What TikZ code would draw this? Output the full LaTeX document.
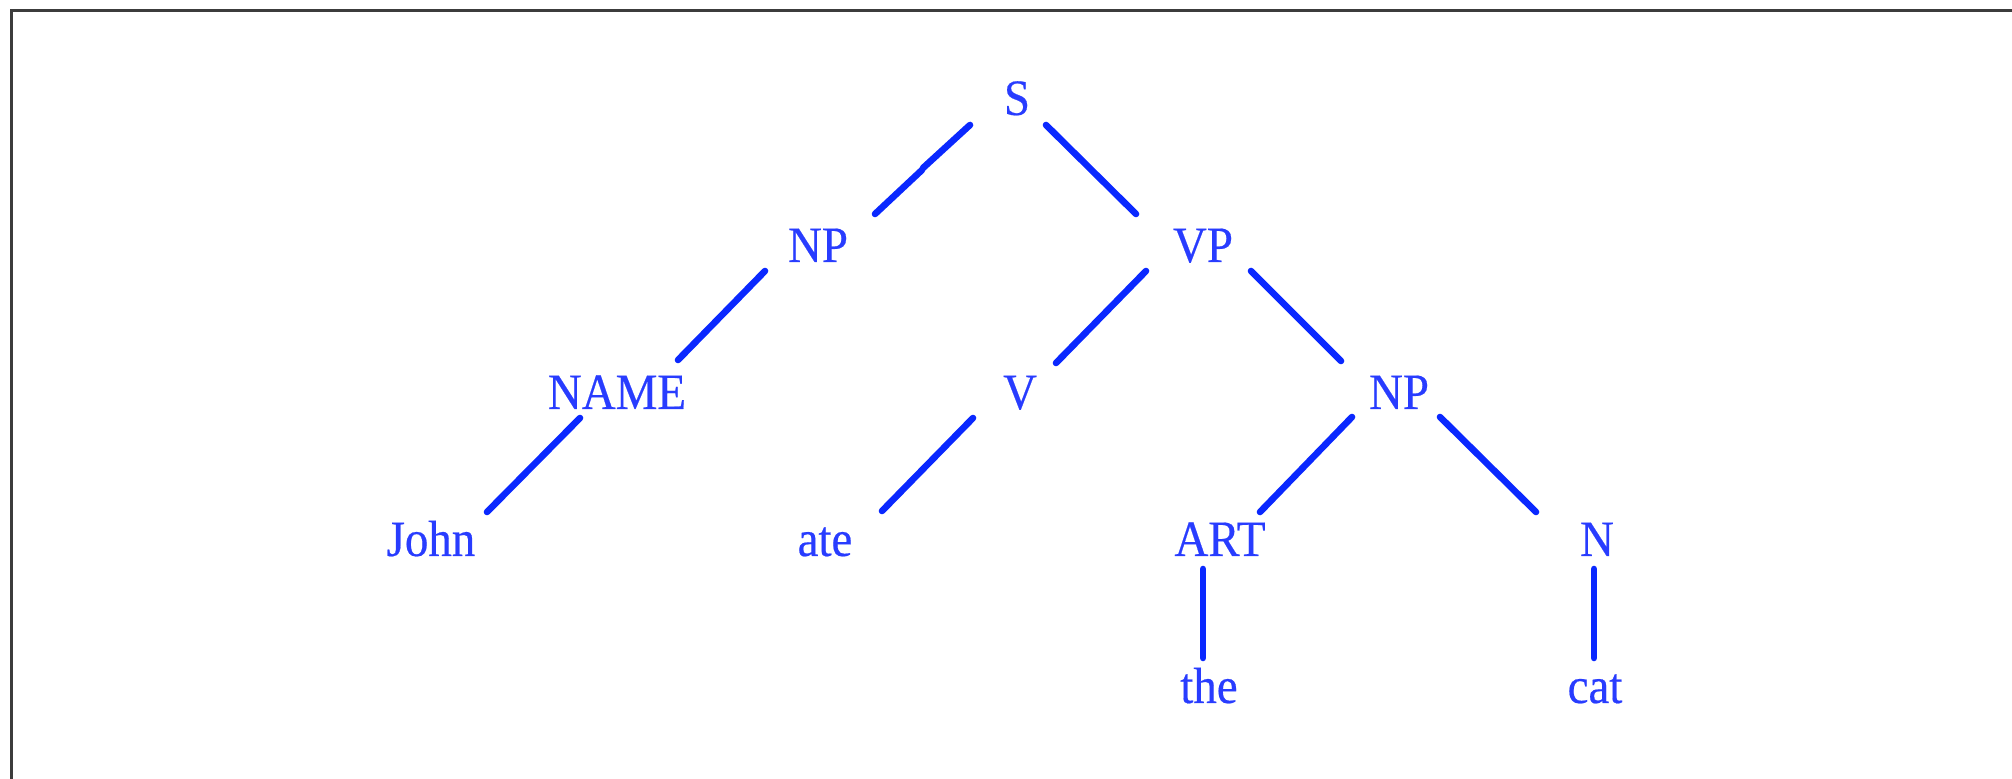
\documentclass[tikz,border=0pt]{standalone}
\usepackage{fontspec}
\setmainfont{Liberation Serif}[FakeStretch=0.92,FakeBold=0.4]
\definecolor{treeblue}{RGB}{10,40,255}
\definecolor{textblue}{RGB}{40,60,255}
\definecolor{framegray}{RGB}{60,60,60}
\begin{document}
\begin{tikzpicture}[x=0.5pt,y=-0.5pt,
  lbl/.style={anchor=base,inner sep=0pt,text=textblue,font=\fontsize{25.5}{30}\selectfont},
  branch/.style={draw=treeblue,line width=3.3pt,line cap=round}]
\useasboundingbox (0,0) rectangle (2012,779);
\fill[white] (0,0) rectangle (2012,779);
\draw[framegray,line width=1.6pt] (11.5,779) -- (11.5,10.5) -- (2012,10.5);
% labels
\node[lbl] (S) at (1017,115) {S};
\node[lbl] (NP) at (818,262) {NP};
\node[lbl] (VP) at (1203,262) {VP};
\node[lbl] (NAME) at (617,409) {NAME};
\node[lbl] (V) at (1020,409) {V};
\node[lbl] (NP2) at (1399,409) {NP};
\node[lbl] (John) at (431,556) {John};
\node[lbl] (ate) at (825,556) {ate};
\node[lbl] (ART) at (1220,556) {ART};
\node[lbl] (N) at (1597,556) {N};
\node[lbl] (the) at (1209,703) {the};
\node[lbl] (cat) at (1595,703) {cat};
% connector end points
\coordinate (S-a) at (970,125);
\coordinate (S-k1) at (923,168);
\coordinate (S-k2) at (922,170);
\coordinate (NP-a) at (875,214);
\coordinate (S-b) at (1046,125);
\coordinate (VP-a) at (1136,214);
\coordinate (NP-b) at (765,271);
\coordinate (NAME-a) at (678,360);
\coordinate (VP-b) at (1146,271);
\coordinate (V-a) at (1056,363);
\coordinate (VP-c) at (1251,271);
\coordinate (NP2-a) at (1341,361);
\coordinate (NAME-b) at (580,418);
\coordinate (John-a) at (487,512);
\coordinate (V-b) at (973,418);
\coordinate (ate-a) at (882,511);
\coordinate (NP2-b) at (1352,417);
\coordinate (ART-a) at (1260,512);
\coordinate (NP2-c) at (1440,417);
\coordinate (N-a) at (1536,512);
\coordinate (ART-b) at (1203,569);
\coordinate (the-a) at (1203,658);
\coordinate (N-b) at (1594,569);
\coordinate (cat-a) at (1594,658);
% connectors
\draw[branch] (S-a) -- (S-k1);
\draw[branch] (S-k2) -- (NP-a);
\draw[branch] (S-b) -- (VP-a);
\draw[branch] (NP-b) -- (NAME-a);
\draw[branch] (VP-b) -- (V-a);
\draw[branch] (VP-c) -- (NP2-a);
\draw[branch] (NAME-b) -- (John-a);
\draw[branch] (V-b) -- (ate-a);
\draw[branch] (NP2-b) -- (ART-a);
\draw[branch] (NP2-c) -- (N-a);
\draw[branch] (ART-b) -- (the-a);
\draw[branch] (N-b) -- (cat-a);
\end{tikzpicture}
\end{document}
